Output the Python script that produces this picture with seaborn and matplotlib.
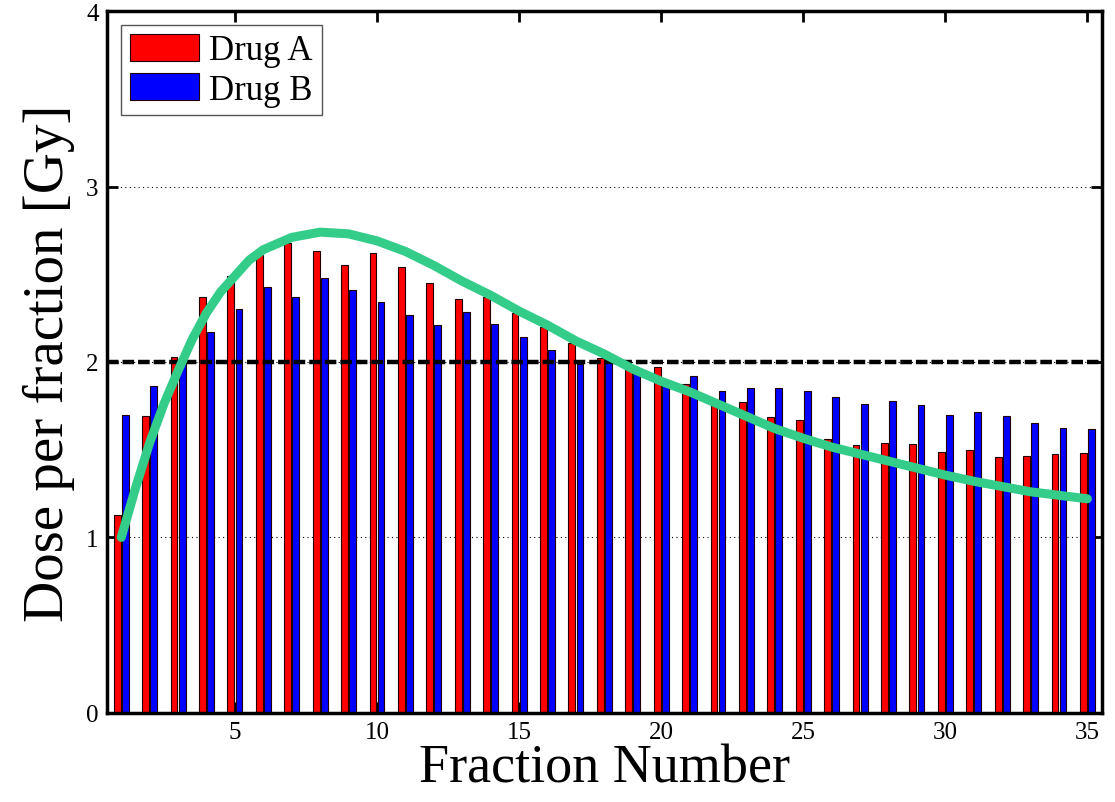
import numpy as np
import pandas as pd
import matplotlib
matplotlib.use("Agg")
import matplotlib.pyplot as plt
import seaborn as sns

fractions = list(range(1, 36))
drug_a = [1.13, 1.69, 2.03, 2.37, 2.49, 2.61, 2.68, 2.63, 2.55, 2.62,
          2.54, 2.45, 2.36, 2.37, 2.28, 2.20, 2.11, 2.02, 1.97, 1.97,
          1.875, 1.78, 1.77, 1.685, 1.67, 1.56, 1.525, 1.54, 1.53, 1.487,
          1.50, 1.46, 1.466, 1.476, 1.48]
drug_b = [1.70, 1.865, 2.02, 2.17, 2.30, 2.43, 2.37, 2.48, 2.41, 2.34,
          2.27, 2.21, 2.285, 2.215, 2.14, 2.07, 1.99, 2.03, 1.95, 1.89,
          1.92, 1.835, 1.85, 1.85, 1.835, 1.80, 1.76, 1.78, 1.755, 1.70,
          1.717, 1.69, 1.65, 1.624, 1.618]
curve_x = [1, 1.5, 2, 2.5, 3, 3.5, 4, 4.5, 5, 5.5, 6, 7, 8, 9, 10, 11, 12, 13, 14, 15, 16, 17,
           18, 19, 20, 21, 22, 23, 24, 25, 26, 27, 28, 29, 30, 31, 32, 33, 34, 35]
curve_y = [1.00, 1.28, 1.54, 1.76, 1.95, 2.13, 2.28, 2.40, 2.49, 2.58, 2.64, 2.71, 2.74, 2.73,
           2.69, 2.63, 2.55, 2.46, 2.38, 2.29, 2.21, 2.12, 2.045, 1.96, 1.89, 1.83, 1.76, 1.69,
           1.62, 1.565, 1.515, 1.475, 1.435, 1.395, 1.355, 1.32, 1.29, 1.26, 1.24, 1.22]
reference_level = 2.0
y_ticks = [0, 1, 2, 3, 4]
x_ticks = [5, 10, 15, 20, 25, 30, 35]
labels = ["Drug A", "Drug B"]

df = pd.DataFrame({
    "fraction": fractions * 2,
    "dose": drug_a + drug_b,
    "drug": [labels[0]] * len(fractions) + [labels[1]] * len(fractions),
})

sns.set_theme(style="white")
plt.rcParams["font.family"] = ["Liberation Serif", "DejaVu Serif"]
plt.rcParams["text.color"] = "black"
plt.rcParams["axes.labelcolor"] = "black"

fig = plt.figure(figsize=(11.15, 8.03), dpi=100)
ax = fig.add_axes([0.096, 0.111, 0.892, 0.874])

sns.barplot(data=df, x="fraction", y="dose", hue="drug", native_scale=True,
            palette={"Drug A": "#ff0000", "Drug B": "#0000ff"}, saturation=1,
            width=0.57, gap=0.15, errorbar=None, edgecolor="#200000",
            linewidth=0.8, ax=ax, zorder=2)

ax.set_xlim(0.5, 35.5)
ax.set_ylim(0, 4)
ax.set_yticks(y_ticks)
ax.set_xticks(x_ticks)
ax.set_yticklabels([str(v) for v in y_ticks])
ax.set_xticklabels([str(v) for v in x_ticks])

for v in y_ticks[1:-1]:
    ax.axhline(v, color="black", linestyle=(0, (1, 3)), linewidth=0.8, zorder=1)
ax.axhline(reference_level, color="black", linestyle=(0, (2.6, 0.9)), linewidth=3.2, zorder=3)

sns.lineplot(x=curve_x, y=curve_y, color="#33cc88", linewidth=6.5, ax=ax, zorder=4)

ax.tick_params(axis="both", direction="in", length=8, width=2, labelsize=18,
               top=True, right=True, bottom=True, left=True, colors="black",
               labelcolor="black", pad=6)
for s in ax.spines.values():
    s.set_linewidth(2.5)
    s.set_color("black")

ax.set_xlabel("Fraction Number", fontsize=39, labelpad=0, color="black")
ax.set_ylabel("Dose per fraction [Gy]", fontsize=41, labelpad=8, color="black")

handles, lbls = ax.get_legend_handles_labels()
bar_handles = [h for h, l in zip(handles, lbls) if l in labels]
leg = ax.legend(bar_handles, labels, loc="upper left", fontsize=25, frameon=True,
                fancybox=False, edgecolor="#555555", framealpha=1,
                handlelength=2.0, handleheight=0.85, handletextpad=0.3,
                borderpad=0.25, labelspacing=0.15, borderaxespad=0.4)
leg.get_frame().set_linewidth(1.0)
for t in leg.get_texts():
    t.set_color("black")

fig.savefig("out.png", dpi=100)
